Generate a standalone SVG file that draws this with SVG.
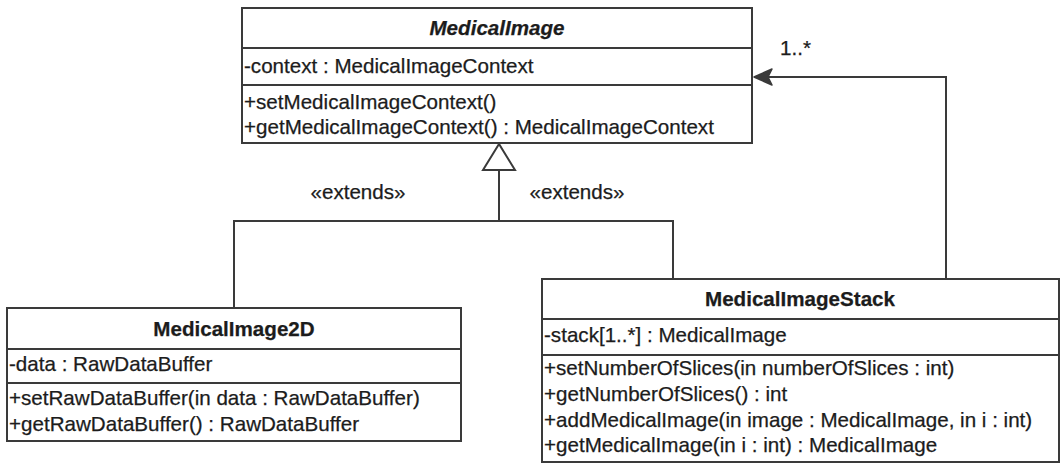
<svg xmlns="http://www.w3.org/2000/svg" width="1062" height="466" viewBox="0 0 1062 466">
  <style>
    .box { fill: #ffffff; stroke: #3a3a3a; stroke-width: 2; }
    .sep { stroke: #3a3a3a; stroke-width: 2; }
    .conn { fill: none; stroke: #3a3a3a; stroke-width: 2; }
    text { font-family: "Liberation Sans", Arial, Helvetica, sans-serif; font-size: 20.6px; fill: #1c1c1c; stroke: #1c1c1c; stroke-width: 0.25; }
    .title { font-weight: bold; text-anchor: middle; }
    .abstract { font-style: italic; }
    .label { text-anchor: middle; }
  </style>
  <rect width="1062" height="466" fill="#ffffff"/>

  <!-- connectors: generalization tree and association -->
  <g id="connectors">
    <polyline class="conn" points="234,308 234,221 673,221 673,279"/>
    <line class="conn" x1="499" y1="170" x2="499" y2="221"/>
    <polygon points="499,144 483,170 515,170" fill="#ffffff" stroke="#3a3a3a" stroke-width="2"/>
    <polyline class="conn" points="946,279 946,77 768,77"/>
    <polygon points="754,77 772,69 768,77 772,85" fill="#3a3a3a" stroke="#3a3a3a" stroke-width="1.5" stroke-linejoin="round"/>
    <text x="780" y="55">1..*</text>
    <text class="label" x="358" y="199">«extends»</text>
    <text class="label" x="577" y="199">«extends»</text>
  </g>

  <!-- abstract base class -->
  <g id="MedicalImage">
    <rect class="box" x="242" y="8" width="510" height="135"/>
    <line class="sep" x1="242" y1="48" x2="752" y2="48"/>
    <line class="sep" x1="242" y1="85" x2="752" y2="85"/>
    <text class="title abstract" x="497" y="35">MedicalImage</text>
    <text x="244" y="73">-context : MedicalImageContext</text>
    <text x="244" y="109">+setMedicalImageContext()</text>
    <text x="244" y="134">+getMedicalImageContext() : MedicalImageContext</text>
  </g>

  <g id="MedicalImage2D">
    <rect class="box" x="7" y="308" width="454" height="133"/>
    <line class="sep" x1="7" y1="349" x2="461" y2="349"/>
    <line class="sep" x1="7" y1="383" x2="461" y2="383"/>
    <text class="title" x="234" y="336">MedicalImage2D</text>
    <text x="9" y="371">-data : RawDataBuffer</text>
    <text x="9" y="405">+setRawDataBuffer(in data : RawDataBuffer)</text>
    <text x="9" y="431">+getRawDataBuffer() : RawDataBuffer</text>
  </g>

  <g id="MedicalImageStack">
    <rect class="box" x="542" y="279" width="517" height="183"/>
    <line class="sep" x1="542" y1="319" x2="1059" y2="319"/>
    <line class="sep" x1="542" y1="355" x2="1059" y2="355"/>
    <text class="title" x="800" y="306">MedicalImageStack</text>
    <text x="544" y="342">-stack[1..*] : MedicalImage</text>
    <text x="544" y="375">+setNumberOfSlices(in numberOfSlices : int)</text>
    <text x="544" y="401">+getNumberOfSlices() : int</text>
    <text x="544" y="427">+addMedicalImage(in image : MedicalImage, in i : int)</text>
    <text x="544" y="452">+getMedicalImage(in i : int) : MedicalImage</text>
  </g>
</svg>
